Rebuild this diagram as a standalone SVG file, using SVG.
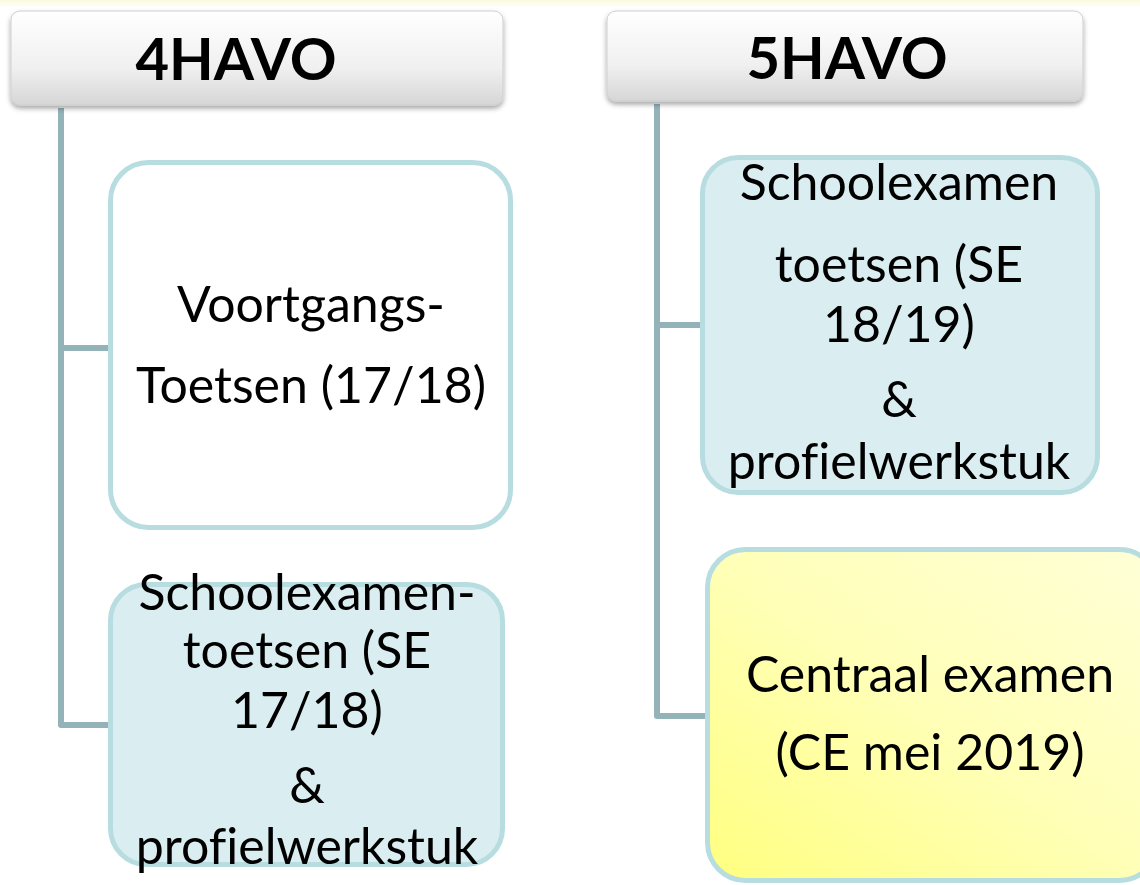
<svg xmlns="http://www.w3.org/2000/svg" width="1140" height="885" viewBox="0 0 1140 885">
<defs>
<linearGradient id="hdr" x1="0" y1="0" x2="0" y2="1">
<stop offset="0" stop-color="#ffffff"/>
<stop offset="0.6" stop-color="#f0f0f0"/>
<stop offset="1" stop-color="#d6d6d6"/>
</linearGradient>
<linearGradient id="yel" x1="0" y1="1" x2="1" y2="0">
<stop offset="0" stop-color="#ffff80"/>
<stop offset="0.5" stop-color="#ffffb8"/>
<stop offset="1" stop-color="#ffffd8"/>
</linearGradient>
<linearGradient id="topband" x1="0" y1="0" x2="0" y2="1">
<stop offset="0" stop-color="#fafae0"/>
<stop offset="1" stop-color="#ffffff"/>
</linearGradient>
<filter id="sh" x="-5%" y="-10%" width="110%" height="130%">
<feDropShadow dx="0" dy="3" stdDeviation="2.5" flood-color="#000" flood-opacity="0.35"/>
</filter>
</defs>
<style>
.hdr{fill:url(#hdr);stroke:#cfcfcf;stroke-width:1;filter:url(#sh)}
.ht{font-family:Lato,"Liberation Sans",sans-serif;font-weight:bold;font-size:58px;fill:#000;text-anchor:middle}
.box{stroke:#b7dde1;stroke-width:5}
.wht{fill:#ffffff}
.blu{fill:#daedf0}
.t{font-family:Lato,"Liberation Sans",sans-serif;font-size:50px;fill:#000;text-anchor:middle;font-variant-ligatures:none}
.con{fill:none;stroke:#93b3b8;stroke-width:6;stroke-linejoin:round}
</style>
<rect x="0" y="0" width="1140" height="885" fill="#ffffff"/>
<rect x="0" y="0" width="1140" height="8" fill="url(#topband)"/>
<g id="connectors">
<path class="con" d="M61 108 V725 H110"/>
<path class="con" d="M61 348 H110"/>
<path class="con" d="M657 104 V716 H707"/>
<path class="con" d="M657 325 H702"/>
</g>
<g id="h4havo">
<rect class="hdr" x="11" y="11" width="492" height="94" rx="9"/>
<text class="ht" x="236" y="80">4HAVO</text>
</g>
<g id="h5havo">
<rect class="hdr" x="607" y="11" width="476" height="90" rx="9"/>
<text class="ht" x="847" y="79">5HAVO</text>
</g>
<g id="voortgang">
<rect class="box wht" x="110.5" y="162.5" width="400" height="365" rx="38"/>
<text class="t" x="311" y="322">Voortgangs-</text>
<text class="t" x="311" y="403">Toetsen (17/18)</text>
</g>
<g id="se4">
<rect class="box blu" x="110.5" y="584.5" width="392" height="280" rx="36"/>
<text class="t" x="307" y="610">Schoolexamen-</text>
<text class="t" x="307" y="668">toetsen (SE</text>
<text class="t" x="307" y="728">17/18)</text>
<text class="t" x="307" y="803">&amp;</text>
<text class="t" x="307" y="864">profielwerkstuk</text>
</g>
<g id="se5">
<rect class="box blu" x="702.5" y="157.5" width="395" height="335" rx="36"/>
<text class="t" x="899" y="200">Schoolexamen</text>
<text class="t" x="899" y="282">toetsen (SE</text>
<text class="t" x="899" y="342">18/19)</text>
<text class="t" x="899" y="417">&amp;</text>
<text class="t" x="899" y="479">profielwerkstuk</text>
</g>
<g id="ce">
<rect class="box" fill="url(#yel)" x="707.5" y="549.5" width="450" height="331" rx="38"/>
<text class="t" x="930" y="692">Centraal examen</text>
<text class="t" x="930" y="770">(CE mei 2019)</text>
</g>
</svg>
